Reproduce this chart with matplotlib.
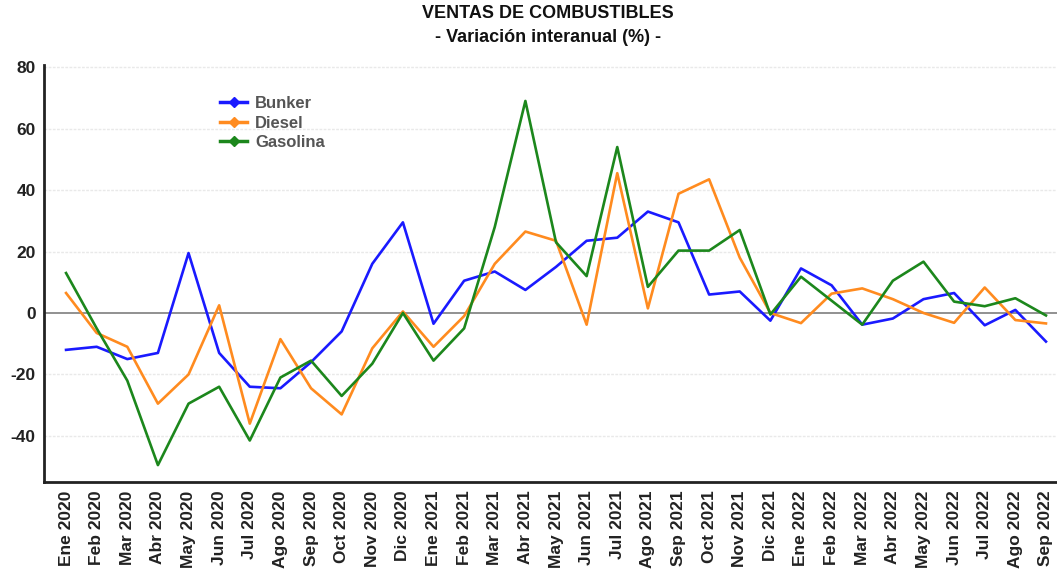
import matplotlib.pyplot as plt
from matplotlib.lines import Line2D

plt.rcParams['font.family'] = ['Liberation Sans', 'DejaVu Sans']
plt.rcParams['font.weight'] = 'bold'
plt.rcParams['axes.unicode_minus'] = False

meses = ['Ene', 'Feb', 'Mar', 'Abr', 'May', 'Jun', 'Jul', 'Ago', 'Sep', 'Oct', 'Nov', 'Dic']
labels = [f'{m} {y}' for y in (2020, 2021) for m in meses] + [f'{m} 2022' for m in meses[:9]]

bunker = [-12, -11, -15, -13, 19.5, -13, -24, -24.5, -16, -6, 16, 29.5,
          -3.5, 10.5, 13.5, 7.5, 15, 23.5, 24.5, 33, 29.5, 6, 7, -2.5,
          14.5, 9, -3.8, -1.8, 4.5, 6.5, -4, 1, -9.3]
diesel = [6.5, -6.5, -11, -29.5, -20, 2.5, -36, -8.5, -24.5, -33, -11.5, 0.5,
          -11, -1, 16, 26.5, 23.5, -3.8, 45.5, 1.5, 38.8, 43.5, 18, 0,
          -3.3, 6.3, 8, 4.5, 0, -3.2, 8.3, -2.3, -3.4]
gasolina = [13, -5, -22, -49.5, -29.5, -24, -41.5, -21, -15.5, -27, -16.5, 0,
            -15.5, -5, 28, 69, 23, 12, 54, 8.5, 20.3, 20.3, 27, -0.5,
            11.8, 4, -3.8, 10.5, 16.7, 3.7, 2.2, 4.8, -0.8]

series = [('Bunker', bunker, '#1a1aff'),
          ('Diesel', diesel, '#ff8b1f'),
          ('Gasolina', gasolina, '#1c871c')]

W, H = 1057, 573
fig = plt.figure(figsize=(W / 100, H / 100), dpi=100)
ax = fig.add_axes([44 / W, 1 - 482 / H, 1 - 44 / W, (482 - 65) / H])

x = list(range(len(labels)))
for name, vals, col in series:
    ax.plot(x, vals, color=col, lw=1.9, label=name, zorder=3)

ax.set_xlim(-0.72, 32.36)
ax.set_ylim(-55, 80.7)
ax.set_yticks([-40, -20, 0, 20, 40, 60, 80])
for v in [-40, -20, 20, 40, 60, 80]:
    ax.axhline(v, color='#e9e9e9', lw=1, ls=(0, (2, 1)), zorder=1)
ax.axhline(0, color='#888888', lw=1.3, zorder=2)

ax.set_xticks(x)
ax.set_xticklabels(labels, rotation=90, fontsize=12.5, fontweight='bold', color='#222222')
ax.tick_params(axis='x', length=0, pad=6)
ax.tick_params(axis='y', length=0, pad=6, labelsize=12.5, labelcolor='#222222')

for s in ['top', 'right']:
    ax.spines[s].set_visible(False)
for s in ['left', 'bottom']:
    ax.spines[s].set_linewidth(2)
    ax.spines[s].set_color('#222222')

fig.text(548 / W, 1 - 14 / H, 'VENTAS DE COMBUSTIBLES', ha='center', va='center',
         fontsize=13, fontweight='bold', color='#111111')
fig.text(548 / W, 1 - 37 / H, '- Variación interanual (%) -', ha='center', va='center',
         fontsize=13, fontweight='bold', color='#111111')

handles = [Line2D([], [], color=c, lw=2.5, marker='D', markersize=5) for _, _, c in series]
leg = ax.legend(handles, [n for n, _, _ in series], loc='upper left',
                bbox_to_anchor=(212 / W, 1 - 88 / H), bbox_transform=fig.transFigure,
                frameon=False, borderpad=0, labelspacing=0.25, handlelength=1.6,
                handletextpad=0.5, prop={'size': 12, 'weight': 'bold'})
for t in leg.get_texts():
    t.set_color('#555555')

fig.savefig('out.png', dpi=100)
